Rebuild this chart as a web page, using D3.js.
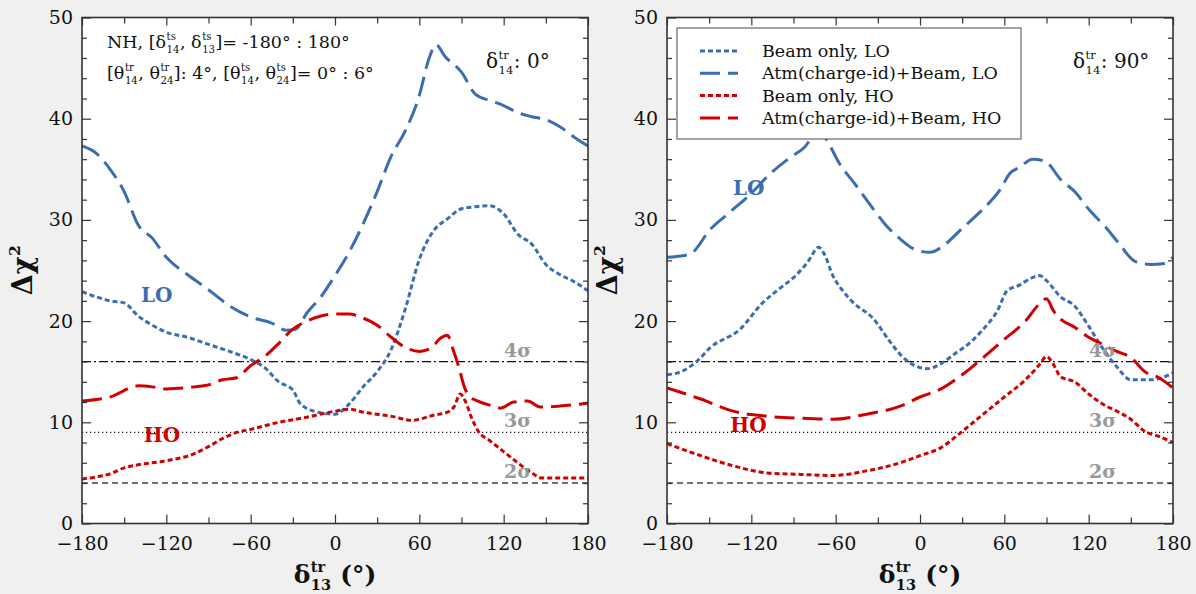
<!DOCTYPE html>
<html>
<head>
<meta charset="utf-8">
<style>
  body { margin: 0; background: #f0f0f0; }
  svg text { font-family: "DejaVu Serif", serif; white-space: pre; }
</style>
</head>
<body>
<script src="https://d3js.org/d3.v7.min.js"></script>
<script>
// ---- data (delta13 in degrees, delta chi^2) ----
var leftBeamLO = [[-180,22.9],[-170,22.4],[-160,22.0],[-150,21.8],[-140,20.5],[-130,19.6],[-120,18.9],[-105,18.4],[-90,17.7],[-75,17.0],[-60,16.2],[-50,15.4],[-40,14.0],[-30,13.2],[-25,11.9],[-15,11.1],[0,10.8],[10,11.8],[20,13.5],[30,15.0],[40,17.2],[50,21.2],[60,26.1],[70,28.9],[80,30.1],[90,31.1],[100,31.3],[110,31.4],[120,30.6],[130,28.6],[140,27.6],[150,25.6],[160,24.6],[170,23.9],[180,23.0]];
var leftAtmLO = [[-180,37.3],[-170,36.6],[-160,35.0],[-150,32.8],[-140,29.5],[-130,28.2],[-120,26.3],[-105,24.6],[-90,23.1],[-75,21.5],[-60,20.4],[-45,19.8],[-35,19.1],[-28,19.2],[-20,20.8],[-10,22.4],[0,24.5],[10,26.8],[20,29.6],[30,32.8],[40,36.3],[50,38.8],[60,42.3],[67,46.0],[72,47.3],[78,46.2],[90,44.6],[100,42.4],[110,41.8],[120,41.3],[130,40.6],[140,40.2],[150,39.9],[160,39.2],[170,38.2],[180,37.3]];
var leftBeamHO = [[-180,4.4],[-170,4.6],[-160,4.9],[-150,5.5],[-140,5.8],[-120,6.2],[-100,6.9],[-90,7.6],[-80,8.4],[-70,9.0],[-60,9.3],[-40,10.0],[-20,10.5],[0,11.1],[10,11.3],[20,11.0],[40,10.6],[55,10.2],[70,10.7],[80,11.0],[85,11.6],[89,12.8],[93,12.0],[97,10.5],[102,9.1],[110,8.2],[120,7.1],[130,6.0],[140,5.0],[147,4.5],[160,4.5],[180,4.5]];
var leftAtmHO = [[-180,12.1],[-160,12.5],[-140,13.6],[-130,13.5],[-120,13.3],[-100,13.5],[-90,13.7],[-80,14.2],[-70,14.4],[-60,15.6],[-50,16.5],[-40,17.8],[-30,19.2],[-20,20.0],[-10,20.5],[0,20.7],[10,20.7],[20,20.3],[30,19.6],[40,18.4],[50,17.4],[60,17.0],[68,17.3],[75,18.3],[80,18.6],[84,17.2],[88,15.5],[92,13.5],[96,12.5],[100,12.2],[110,11.7],[118,11.4],[127,12.0],[137,12.1],[146,11.5],[160,11.6],[180,11.9]];

var rightBeamLO = [[-180,14.7],[-170,15.0],[-159,16.0],[-149,17.4],[-128,19.2],[-112,21.8],[-100,23.2],[-90,24.3],[-80,25.8],[-72,27.3],[-68,26.6],[-62,24.5],[-55,23.0],[-48,21.9],[-33,20.2],[-21,17.9],[-14,16.7],[-5,15.7],[5,15.3],[15,15.8],[25,16.8],[35,17.8],[45,19.2],[55,21.0],[62,23.0],[70,23.5],[80,24.3],[85,24.5],[90,24.0],[100,22.4],[110,21.5],[120,19.5],[130,17.3],[140,15.5],[150,14.2],[165,14.2],[180,14.9]];
var rightAtmLO = [[-180,26.3],[-164,26.6],[-149,29.1],[-135,30.8],[-121,32.5],[-107,34.5],[-92,36.2],[-82,37.2],[-76,38.3],[-71,38.8],[-66,37.8],[-57,35.5],[-46,33.5],[-36,31.6],[-25,29.6],[-14,28.1],[-4,27.1],[7,26.8],[18,27.6],[28,28.9],[39,30.3],[50,31.8],[57,33.0],[64,34.6],[71,35.2],[80,36.0],[89,35.8],[100,34.0],[110,32.8],[121,30.9],[132,29.3],[142,27.6],[153,25.9],[164,25.6],[174,25.7],[180,26.3]];
var rightBeamHO = [[-180,7.9],[-156,6.7],[-133,5.7],[-109,5.0],[-85,4.85],[-62,4.75],[-38,5.2],[-14,6.0],[0,6.7],[15,7.5],[30,9.1],[45,10.8],[60,12.5],[75,14.2],[85,15.7],[90,16.5],[95,15.7],[100,14.5],[110,14.0],[120,12.8],[130,11.8],[140,11.1],[150,10.3],[160,9.1],[170,8.6],[180,8.0]];
var rightAtmHO = [[-180,13.4],[-156,12.3],[-133,11.1],[-109,10.6],[-85,10.4],[-62,10.3],[-38,10.8],[-14,11.6],[0,12.5],[15,13.3],[30,14.7],[45,16.4],[60,18.2],[75,20.0],[85,21.7],[90,22.2],[95,21.0],[100,20.2],[110,19.4],[120,18.4],[130,17.7],[140,17.0],[150,16.4],[160,15.0],[170,14.4],[180,13.4]];

var xMajor = [-180,-120,-60,0,60,120,180];
var xMinor = [-150,-90,-30,30,90,150];
var yMajor = [0,10,20,30,40,50];
var yMinor = [2,4,6,8,12,14,16,18,22,24,26,28,32,34,36,38,42,44,46,48];
var sigmaValues = [4,9,16];
var sigmaLabels = ["2σ","3σ","4σ"];
var legendLabels = ["Beam only, LO","Atm(charge-id)+Beam, LO","Beam only, HO","Atm(charge-id)+Beam, HO"];

var BLUE = "#3b6eb0", RED = "#d10000";
var DOT = "5,3", DASH = "20,8";

var width = 1196, height = 594;
var svg = d3.select("body").append("svg")
    .attr("width", width).attr("height", height)
    .style("display","block");
svg.append("rect").attr("width",width).attr("height",height).attr("fill","#f0f0f0");

// rich text: parts are strings or {b:base, sup:.., sub:..}
function richText(g, x, y, parts, size, weight, fill){
  var cx = x;
  parts.forEach(function(p){
    if (typeof p === "string") p = {b:p};
    var t = g.append("text").attr("x",cx).attr("y",y)
      .attr("font-size",size).attr("font-weight",weight||"normal")
      .attr("fill",fill||"#111").text(p.b);
    cx += t.node().getComputedTextLength();
    var w = 0;
    if (p.sup){
      var s = g.append("text").attr("x",cx+0.5).attr("y",y - size*0.44)
        .attr("font-size",size*0.58).attr("font-weight",weight||"normal")
        .attr("fill",fill||"#111").text(p.sup);
      w = Math.max(w, s.node().getComputedTextLength());
    }
    if (p.sub){
      var u = g.append("text").attr("x",cx+0.5).attr("y",y + size*0.29)
        .attr("font-size",size*0.58).attr("font-weight",weight||"normal")
        .attr("fill",fill||"#111").text(p.sub);
      w = Math.max(w, u.node().getComputedTextLength());
    }
    cx += w ? w + 1 : 0;
  });
  return cx - x;
}

function drawPanel(x0, x1, series, opts){
  var yTop = 17.5, yBot = 523.5;
  var x = d3.scaleLinear().domain([-180,180]).range([x0,x1]);
  var y = d3.scaleLinear().domain([0,50]).range([yBot,yTop]);
  var g = svg.append("g");

  g.append("rect").attr("x",x0).attr("y",yTop).attr("width",x1-x0).attr("height",yBot-yTop).attr("fill","#fff");

  var clipId = "clip" + Math.round(x0);
  g.append("clipPath").attr("id",clipId).append("rect")
    .attr("x",x0).attr("y",yTop).attr("width",x1-x0).attr("height",yBot-yTop);
  var plot = g.append("g").attr("clip-path","url(#"+clipId+")");

  // sigma lines
  var sigStyle = [{dash:"6,4", col:"#444"},{dash:"1.2,2.8", col:"#111"},{dash:"9,3,2,3", col:"#111"}];
  sigmaValues.forEach(function(v,i){
    plot.append("line").attr("x1",x0).attr("x2",x1).attr("y1",y(v)).attr("y2",y(v))
      .attr("stroke",sigStyle[i].col).attr("stroke-width",1.3)
      .attr("stroke-dasharray",sigStyle[i].dash);
    g.append("text").attr("x",x(opts.sigX)).attr("y",y(v)-5)
      .attr("text-anchor","middle").attr("font-size",19).attr("font-weight","bold")
      .attr("fill","#999").text(sigmaLabels[i]);
  });

  var line = d3.line().x(function(d){return x(d[0]);}).y(function(d){return y(d[1]);})
    .curve(d3.curveMonotoneX);
  series.forEach(function(s){
    plot.append("path").datum(s.data).attr("d",line).attr("fill","none")
      .attr("stroke",s.color).attr("stroke-width",3).attr("stroke-dasharray",s.dash);
  });

  // LO / HO labels
  g.append("text").attr("x",x(opts.loPos[0])).attr("y",y(opts.loPos[1]))
    .attr("font-size",20).attr("font-weight","bold").attr("fill",BLUE).text("LO");
  g.append("text").attr("x",x(opts.hoPos[0])).attr("y",y(opts.hoPos[1]))
    .attr("font-size",20).attr("font-weight","bold").attr("fill",RED).text("HO");

  // axes with inward ticks
  function ax(axis, tr, vals, size, labels, pad){
    var a = g.append("g").attr("transform",tr)
      .call(axis.tickValues(vals).tickSizeInner(-size).tickSizeOuter(0).tickPadding(pad || 8)
        .tickFormat(labels ? d3.format("") : ""));
    a.select(".domain").remove();
    a.selectAll("line").attr("stroke","#333").attr("stroke-width",1.2);
    a.selectAll("text").attr("font-size",19).attr("fill","#111")
      .style("font-family","'DejaVu Serif', serif");
    return a;
  }
  ax(d3.axisBottom(x), "translate(0,"+yBot+")", xMajor, 9, true, 13);
  ax(d3.axisBottom(x), "translate(0,"+yBot+")", xMinor, 6, false);
  ax(d3.axisTop(x), "translate(0,"+yTop+")", xMajor, 8, false);
  ax(d3.axisTop(x), "translate(0,"+yTop+")", xMinor, 6, false);
  ax(d3.axisLeft(y), "translate("+x0+",0)", yMajor, 9, true, 9);
  ax(d3.axisLeft(y), "translate("+x0+",0)", yMinor, 5, false);
  ax(d3.axisRight(y), "translate("+x1+",0)", yMajor, 9, false);
  ax(d3.axisRight(y), "translate("+x1+",0)", yMinor, 5, false);

  g.append("rect").attr("x",x0).attr("y",yTop).attr("width",x1-x0).attr("height",yBot-yTop)
    .attr("fill","none").attr("stroke","#333").attr("stroke-width",1.6);

  // axis titles
  var xt = g.append("g");
  var w = richText(xt, 0, 0, [{b:"δ", sup:"tr", sub:"13"}, " (°)"], 25, "bold");
  xt.attr("transform","translate("+((x0+x1)/2 - w/2)+",583)");

  var yt = g.append("g");
  var wy = richText(yt, 0, 0, [{b:"Δχ", sup:"2"}], 27, "bold");
  yt.attr("transform","translate("+(x0-50)+","+(270+wy/2)+") rotate(-90)");

  // delta14 annotation
  richText(g, opts.d14x, 68, [{b:"δ", sup:"tr", sub:"14"}, ": " + opts.d14 + "°"], 20, "normal");
  return {g:g, x:x, y:y};
}

var left = drawPanel(82, 588, [
  {data:leftBeamLO, color:BLUE, dash:DOT},
  {data:leftAtmLO, color:BLUE, dash:DASH},
  {data:leftBeamHO, color:RED, dash:DOT},
  {data:leftAtmHO, color:RED, dash:DASH}
], {sigX:130, loPos:[-138,21.9], hoPos:[-136,8.1], d14x:486, d14:"0"});

var right = drawPanel(667, 1173, [
  {data:rightBeamLO, color:BLUE, dash:DOT},
  {data:rightAtmLO, color:BLUE, dash:DASH},
  {data:rightBeamHO, color:RED, dash:DOT},
  {data:rightAtmHO, color:RED, dash:DASH}
], {sigX:130, loPos:[-133,32.5], hoPos:[-135,9.0], d14x:1073, d14:"90"});

// header text in left panel
richText(left.g, 107, 48, ["NH, [", {b:"δ", sup:"ts", sub:"14"}, ", ", {b:"δ", sup:"ts", sub:"13"}, "]= -180° : 180°"], 17.5, "normal");
richText(left.g, 107, 79, ["[", {b:"θ", sup:"tr", sub:"14"}, ", ", {b:"θ", sup:"tr", sub:"24"}, "]: 4°, [", {b:"θ", sup:"ts", sub:"14"}, ", ", {b:"θ", sup:"ts", sub:"24"}, "]= 0° : 6°"], 17.5, "normal");

// legend in right panel
var lg = right.g.append("g");
lg.append("rect").attr("x",677).attr("y",28).attr("width",344).attr("height",111)
  .attr("fill","#fff").attr("stroke","#666").attr("stroke-width",1.2);
var legStyles = [{c:BLUE,d:DOT},{c:BLUE,d:DASH},{c:RED,d:DOT},{c:RED,d:DASH}];
legendLabels.forEach(function(t,i){
  var yy = 51 + i*22.3;
  lg.append("line").attr("x1",700).attr("x2",738).attr("y1",yy).attr("y2",yy)
    .attr("stroke",legStyles[i].c).attr("stroke-width",3).attr("stroke-dasharray",legStyles[i].d);
  lg.append("text").attr("x",762).attr("y",yy+6).attr("font-size",17.5).attr("fill","#111").text(t);
});
</script>
</body>
</html>
